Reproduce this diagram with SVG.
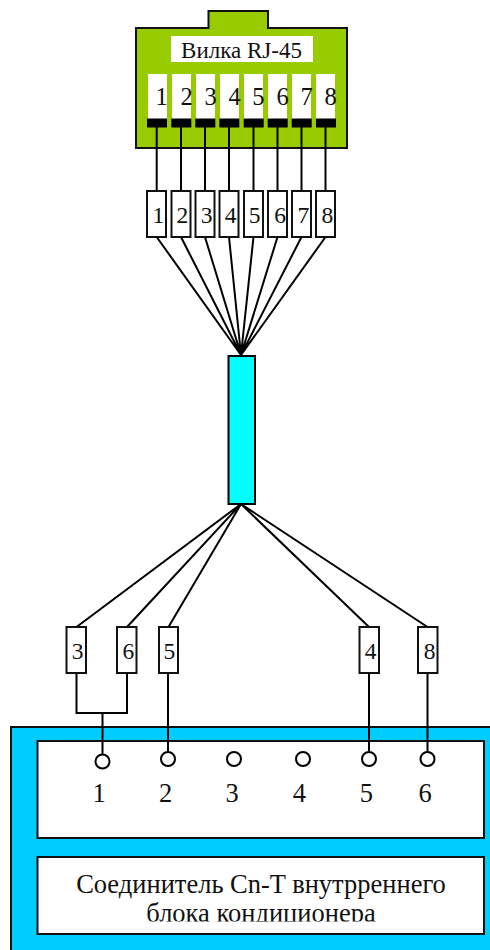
<svg xmlns="http://www.w3.org/2000/svg" width="490" height="950" viewBox="0 0 490 950">
<defs><clipPath id="cl"><rect x="37" y="857" width="447" height="64.500"/></clipPath></defs>
<style>
text{font-family:"Liberation Serif","Times New Roman",serif;fill:#111;text-anchor:middle}
.s{font-size:23.500px}
.p{font-size:24.500px}
.l{font-size:26.500px}
.box{fill:#fff;stroke:#111;stroke-width:2}
.w{fill:none;stroke:#000;stroke-width:2}
.c{fill:#fff;stroke:#000;stroke-width:2}
</style>
<rect width="490" height="950" fill="#fff"/>
<g id="plug">
<path d="M136 28H208.500V11H268V28H347V148H136Z" fill="#99CC00" stroke="#111" stroke-width="2"/>
<rect x="171" y="36" width="142" height="26" fill="#fff"/>
<text x="241.500" y="58" font-size="23">Вилка RJ-45</text>
<g fill="#fff"><rect x="148" y="74" width="19" height="45"/><rect x="172" y="74" width="19" height="45"/><rect x="196" y="74" width="19" height="45"/><rect x="220" y="74" width="19" height="45"/><rect x="244" y="74" width="19" height="45"/><rect x="268" y="74" width="19" height="45"/><rect x="292" y="74" width="19" height="45"/><rect x="316" y="74" width="19" height="45"/></g>
<g fill="#000"><rect x="147" y="118.500" width="20" height="9"/><rect x="171.300" y="118.500" width="20" height="9"/><rect x="195.300" y="118.500" width="20" height="9"/><rect x="219.300" y="118.500" width="20" height="9"/><rect x="243.700" y="118.500" width="20" height="9"/><rect x="267.700" y="118.500" width="20" height="9"/><rect x="291.700" y="118.500" width="20" height="9"/><rect x="316" y="118.500" width="20" height="9"/></g>
<g class="p"><text x="161.700" y="105">1</text><text x="186.700" y="105">2</text><text x="210.700" y="105">3</text><text x="234.700" y="105">4</text><text x="258.300" y="105">5</text><text x="282.700" y="105">6</text><text x="306.700" y="105">7</text><text x="330.700" y="105">8</text></g>
</g>
<g id="connectors" class="w">
<path d="M156.700 127V191M181 127V191M205 127V191M229 127V191M253.500 127V191M277.500 127V191M301.500 127V191M325.500 127V191"/>
<path d="M156.700 237L241 355M181 237L241 355M205 237L241 355M229 237L241 355M253.500 237L241 355M277.500 237L241 355M301.500 237L241 355M325.500 237L241 355"/>
<path d="M241 504L76.500 627M241 504L127 627M241 504L168.500 627M241 504L369 627M241 504L427.500 627"/>
</g>
<g id="conn8">
<rect class="box" x="147" y="191" width="19" height="46"/><rect class="box" x="171.500" y="191" width="19" height="46"/><rect class="box" x="195.500" y="191" width="19" height="46"/><rect class="box" x="219.500" y="191" width="19" height="46"/><rect class="box" x="244" y="191" width="19" height="46"/><rect class="box" x="268" y="191" width="19" height="46"/><rect class="box" x="292" y="191" width="19" height="46"/><rect class="box" x="316" y="191" width="19" height="46"/>
<g class="s"><text x="158.300" y="222.500">1</text><text x="182.300" y="222.500">2</text><text x="206.700" y="222.500">3</text><text x="230.700" y="222.500">4</text><text x="254.700" y="222.500">5</text><text x="280" y="222.500">6</text><text x="303.300" y="222.500">7</text><text x="327.300" y="222.500">8</text></g>
</g>
<g id="cable"><rect x="228.500" y="356" width="26.500" height="148" fill="#00FFFF" stroke="#000" stroke-width="2"/></g>
<g id="board">
<rect x="11" y="727" width="490" height="240" fill="#00CCFF" stroke="#111" stroke-width="2"/>
<rect class="box" x="37.500" y="741" width="446.500" height="97"/>
<rect class="box" x="37.500" y="857" width="446.500" height="77"/>
<text x="261" y="892.500" class="l">Соединитель Cn-T внутрреннего</text>
<g clip-path="url(#cl)"><text x="261" y="922" class="l">блока кондиционера</text></g>
<g class="l"><text x="99" y="802">1</text><text x="165.700" y="802">2</text><text x="232" y="802">3</text><text x="299.300" y="802">4</text><text x="366.300" y="802">5</text><text x="425" y="802">6</text></g>
</g>
<g id="connectors-lower" class="w">
<path d="M76.500 673V713H127V673M102.500 713V754"/>
<path d="M168 673V752M369 673V752M427.500 673V752"/>
</g>
<g id="conn5">
<rect class="box" x="66.500" y="627" width="19.500" height="46"/><rect class="box" x="117" y="627" width="19.500" height="46"/><rect class="box" x="159" y="627" width="19" height="46"/><rect class="box" x="359.500" y="627" width="19.500" height="46"/><rect class="box" x="418" y="627" width="19.500" height="46"/>
<g class="s"><text x="77.700" y="658.500">3</text><text x="128.300" y="658.500">6</text><text x="169.300" y="658.500">5</text><text x="370.700" y="658.500">4</text><text x="429.700" y="658.500">8</text></g>
</g>
<g id="pins">
<circle class="c" cx="102.500" cy="761.500" r="7"/><circle class="c" cx="168" cy="759" r="7"/><circle class="c" cx="234" cy="759" r="7"/><circle class="c" cx="303" cy="759" r="7"/><circle class="c" cx="369" cy="759" r="7"/><circle class="c" cx="427.500" cy="759" r="7"/>
</g>
</svg>
